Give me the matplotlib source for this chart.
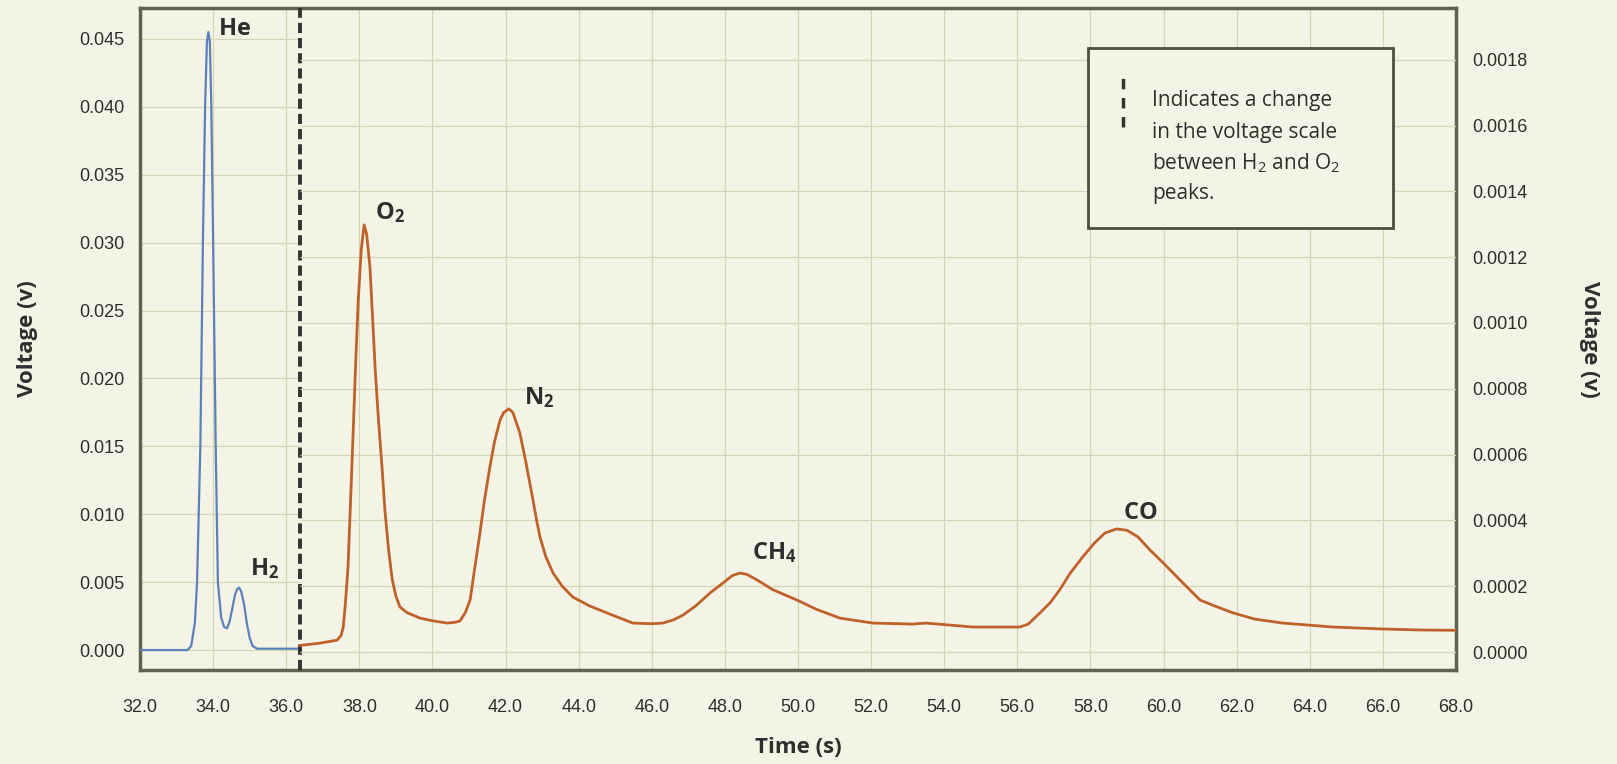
import numpy as np
import matplotlib
matplotlib.use("Agg")
import matplotlib.pyplot as plt
from matplotlib.patches import Rectangle

plt.rcParams['mathtext.fontset'] = 'custom'
plt.rcParams['mathtext.rm'] = 'Open Sans'
plt.rcParams['mathtext.bf'] = 'Open Sans:bold'

# blue trace (left axis): He and H2
blue_t = [32.0, 33.3, 33.4, 33.5, 33.56, 33.65, 33.72, 33.78, 33.83, 33.87, 33.91, 33.95,
          34.0, 34.07, 34.13, 34.22, 34.3, 34.38, 34.45, 34.52, 34.6, 34.66, 34.71, 34.77,
          34.85, 34.92, 35.0, 35.08, 35.2, 36.38]
blue_v = [0.0, 0.0, 0.0003, 0.002, 0.005, 0.015, 0.030, 0.040, 0.0448, 0.0455, 0.0448,
          0.040, 0.030, 0.015, 0.005, 0.0024, 0.0017, 0.0016, 0.0021, 0.003, 0.0041, 0.0045,
          0.0046, 0.0043, 0.0033, 0.002, 0.0009, 0.0003, 0.0001, 0.0001]

# orange trace (right axis): O2, N2, CH4, CO
red_t = [36.38, 36.92, 37.39, 37.5, 37.56, 37.62, 37.69, 37.76, 37.83, 37.9, 37.97, 38.05,
         38.13, 38.2, 38.29, 38.36, 38.43, 38.52, 38.62, 38.7, 38.8, 38.9, 39.0, 39.11,
         39.3, 39.66, 40.0, 40.4, 40.6, 40.75, 40.9, 41.03, 41.15, 41.3, 41.42, 41.57,
         41.7, 41.85, 41.95, 42.09, 42.2, 42.39, 42.55, 42.75, 42.85, 42.94, 43.1, 43.3,
         43.55, 43.84, 44.3, 44.77, 45.48, 46.0, 46.3, 46.58, 46.85, 47.2, 47.6, 47.95,
         48.2, 48.41, 48.6, 48.88, 49.3, 49.97, 50.5, 51.15, 52.05, 53.14, 53.5, 54.78,
         56.07, 56.3, 56.62, 56.9, 57.16, 57.45, 57.79, 58.1, 58.4, 58.72, 59.0, 59.3,
         59.63, 60.0, 60.53, 60.8, 61.0, 61.4, 61.9, 62.5, 63.26, 64.63, 66.0, 67.0, 68.0]
red_v = [0.00002, 0.000027, 0.000036, 0.00005, 0.000076, 0.00015, 0.000258, 0.00046,
         0.000666, 0.00088, 0.00107, 0.00122, 0.001298, 0.00127, 0.00117, 0.00102,
         0.000866, 0.00071, 0.000562, 0.00043, 0.00031, 0.00022, 0.00017, 0.000137,
         0.00012, 0.000103, 0.000095, 0.000088, 0.00009, 0.000094, 0.00012, 0.000158,
         0.00025, 0.000362, 0.00046, 0.000562, 0.00064, 0.000705, 0.000728, 0.000739,
         0.000728, 0.000666, 0.00058, 0.000462, 0.0004, 0.00035, 0.00029, 0.00024,
         0.0002, 0.000167, 0.00014, 0.000119, 0.000088, 0.000086, 0.000088, 0.000097,
         0.000112, 0.00014, 0.00018, 0.00021, 0.000232, 0.00024, 0.000236, 0.000219,
         0.00019, 0.000158, 0.00013, 0.000103, 0.000088, 0.000085, 0.000088, 0.000076,
         0.000076, 0.000085, 0.000119, 0.00015, 0.000189, 0.00024, 0.000289, 0.00033,
         0.000362, 0.000374, 0.00037, 0.00035, 0.00031, 0.00027, 0.00021, 0.00018,
         0.000158, 0.00014, 0.000119, 0.0001, 0.000088, 0.000076, 0.00007, 0.000067,
         0.000066]

switch_t = 36.38
x_ticks = np.arange(32, 68.1, 2)
left_ticks = np.arange(0, 0.0451, 0.005)
right_ticks = np.arange(0, 0.00181, 0.0002)

bg = '#f4f4e6'
grid_c = '#d2d5b6'
frame_c = '#5c6450'
text_c = '#2e2e2e'
tick_font = 'Liberation Sans'
label_font = 'Open Sans'

fig = plt.figure(figsize=(16.17, 7.64), dpi=100, facecolor=bg)
ax = fig.add_axes([0.0866, 0.123, 0.8138, 0.8665], facecolor=bg)
ax2 = ax.twinx()

ax.set_xlim(32, 68)
ax.set_ylim(-0.00147, 0.04727)
ax2.set_ylim(-0.0000547, 0.001957)

# grid: vertical full height, horizontal split at the scale change
ax.vlines(x_ticks, -1, 1, color=grid_c, lw=0.9, zorder=0)
ax.hlines(left_ticks, 32, switch_t, color=grid_c, lw=0.9, zorder=0)
ax2.hlines(right_ticks, switch_t, 68, color=grid_c, lw=0.9, zorder=0)

ax.plot(blue_t, blue_v, color='#5a82b8', lw=1.6, zorder=3, solid_joinstyle='round')
ax2.plot(red_t, red_v, color='#c0612c', lw=2.0, zorder=3, solid_joinstyle='round')
ax.axvline(switch_t, color='#333333', lw=2.8, linestyle=(0, (2.6, 1.3)), zorder=4)

ax.set_xticks(x_ticks)
ax.set_xticklabels([f"{t:.1f}" for t in x_ticks])
ax.set_yticks(left_ticks)
ax.set_yticklabels([f"{v:.3f}" for v in left_ticks])
ax2.set_yticks(right_ticks)
ax2.set_yticklabels([f"{v:.4f}" for v in right_ticks])

ax.tick_params(axis='x', length=0, pad=21, labelsize=13, labelcolor=text_c)
ax.tick_params(axis='y', length=0, pad=11, labelsize=13, labelcolor=text_c)
ax2.tick_params(axis='y', length=0, pad=12, labelsize=13, labelcolor=text_c)
for lab in ax.get_xticklabels() + ax.get_yticklabels() + ax2.get_yticklabels():
    lab.set_fontfamily(tick_font)

for s in ax.spines.values():
    s.set_color(frame_c)
    s.set_linewidth(2.5)
for s in ax2.spines.values():
    s.set_visible(False)

ax.set_xlabel("Time (s)", fontsize=16, fontweight='bold', family=label_font,
              color=text_c, labelpad=15)
ax.set_ylabel("Voltage (v)", fontsize=16, fontweight='bold', family=label_font,
              color=text_c, labelpad=30)
ax2.set_ylabel("Voltage (v)", fontsize=16, fontweight='bold', family=label_font,
               color=text_c, rotation=270, labelpad=52)

# peak labels
pk = dict(fontsize=17, color=text_c, va='center', ha='left')
ax.text(34.13, 0.0458, r"$\mathbf{He}$", **pk)
ax.text(35.0, 0.0060, r"$\mathbf{H_2}$", **pk)
ax2.text(38.43, 0.001335, r"$\mathbf{O_2}$", **pk)
ax2.text(42.5, 0.000772, r"$\mathbf{N_2}$", **pk)
ax2.text(48.74, 0.000301, r"$\mathbf{CH_4}$", **pk)
ax2.text(58.89, 0.000426, r"$\mathbf{CO}$", **pk)

# note box
ax2.add_patch(Rectangle((0.7204, 0.6677), 0.2317, 0.2719, transform=ax2.transAxes,
                        facecolor=bg, edgecolor='#4a5040', lw=2, zorder=5))
ax2.plot([0.747, 0.747], [0.8202, 0.9063], transform=ax2.transAxes, color='#333333',
         lw=2.5, linestyle=(0, (3, 2.5)), zorder=6)
note = ["Indicates a change", "in the voltage scale",
        r"between H$_2$ and O$_2$", "peaks."]
for line, y in zip(note, [0.861, 0.8127, 0.7659, 0.7205]):
    ax2.text(0.769, y, line, transform=ax2.transAxes, fontsize=15, family=label_font,
             color=text_c, va='center', ha='left', zorder=6)

fig.savefig("out.png", dpi=100, facecolor=bg)
